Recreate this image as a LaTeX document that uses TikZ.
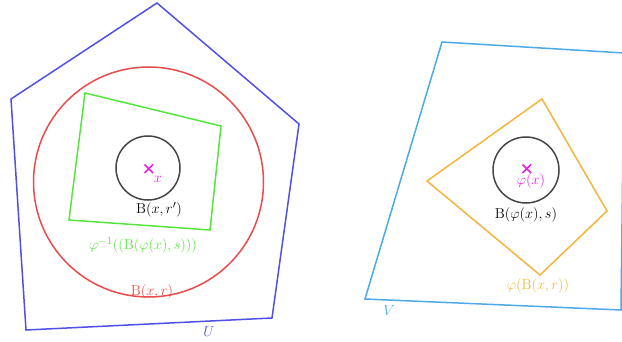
\documentclass[tikz,border=0pt]{standalone}
\usepackage{amsmath}
\definecolor{cpent}{RGB}{80,80,230}
\definecolor{cred}{RGB}{235,75,75}
\definecolor{cgreen}{RGB}{85,230,60}
\definecolor{cdark}{RGB}{70,70,70}
\definecolor{cmag}{RGB}{230,30,230}
\definecolor{clblue}{RGB}{75,170,235}
\definecolor{corange}{RGB}{245,180,60}
\begin{document}
\begin{tikzpicture}[x=1pt,y=-1pt,
  shape line/.style={line width=1.5pt},
  lbl/.style={inner sep=0pt,font=\fontsize{15}{18}\selectfont},
  crossmark/.style={line width=1.7pt,cmag}]
\useasboundingbox (0,0) rectangle (622,342);
\begin{scope}
\clip (0,0) rectangle (622,342);
% left side
\draw[shape line,cpent] (157,3) -- (299,124) -- (272,318) -- (26,330) -- (11,99) -- cycle;
\draw[shape line,cred] (148.5,182) circle[radius=115pt];
\draw[shape line,cgreen] (85,93) -- (221,126) -- (210,230) -- (69,220) -- cycle;
\draw[shape line,cdark] (148,168) circle[radius=32pt];
\draw[crossmark] (144.5,164.5) -- (153,173) (144.5,173) -- (153,164.5);
% right side
\draw[shape line,clblue] (442,42) -- (624,53) -- (621,310) -- (365,299) -- cycle;
\draw[shape line,corange] (542,99) -- (607,211) -- (540,275) -- (427,181) -- cycle;
\draw[shape line,cdark] (526,170) circle[radius=33pt];
\draw[crossmark] (522.5,164.5) -- (531,173) (522.5,173) -- (531,164.5);
\end{scope}
% labels
\node[lbl,cmag] (lx) at (158,179) {$x$};
\node[lbl,black] (lbxr1) at (159,210) {$\mathrm{B}(x,r')$};
\node[lbl,cgreen] (lpre) at (143,245) {$\varphi^{-1}((\mathrm{B}(\varphi(x),s)))$};
\node[lbl,cred] (lbxr) at (152,292) {$\mathrm{B}(x,r)$};
\node[lbl,cpent] (lU) at (209,332) {$U$};
\node[lbl,cmag] (lpx) at (531,181) {$\varphi(x)$};
\node[lbl,black] (lbpx) at (526,215) {$\mathrm{B}(\varphi(x),s)$};
\node[lbl,corange] (limg) at (538,286) {$\varphi(\mathrm{B}(x,r))$};
\node[lbl,clblue] (lV) at (389,311) {$V$};
\end{tikzpicture}
\end{document}
